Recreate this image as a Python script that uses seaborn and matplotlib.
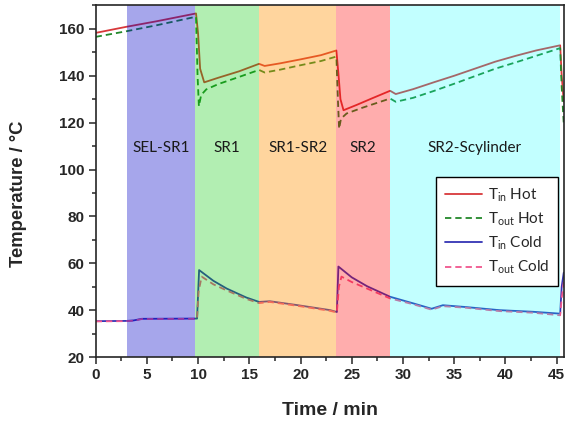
import matplotlib
matplotlib.use('Agg')
import matplotlib.pyplot as plt
from matplotlib.ticker import MultipleLocator
import numpy as np
import pandas as pd
import seaborn as sns

# heat-exchange run: inlet / outlet temperatures of the hot and cold streams
t_hot_in = [0, 3.0, 6.0, 9.8, 10.0, 10.2, 10.6, 12.0, 14.0, 15.95, 16.5, 18.0, 20.0, 22.0,
            23.5, 23.7, 23.9, 24.2, 25.5, 27.0, 28.75, 29.3, 31.0, 33.0, 35.0, 37.0, 39.0,
            41.0, 43.0, 45.35, 45.5, 45.7]
hot_in = [158.3, 160.9, 163.3, 166.6, 158, 143, 137.2, 139.2, 141.9, 145.1, 144.2, 145.3,
          147.0, 148.8, 150.8, 141, 130, 125.3, 127.6, 130.4, 133.6, 132.2, 134.3, 137.2,
          140.0, 143.0, 146.0, 148.5, 150.8, 153.0, 140, 129]

t_hot_out = [0, 3.0, 6.0, 9.8, 9.95, 10.08, 10.3, 10.8, 12.0, 14.0, 15.95, 16.5, 18.0, 20.0,
             22.0, 23.5, 23.65, 23.77, 23.95, 24.5, 26.0, 28.75, 29.3, 31.0, 33.0, 35.0,
             37.0, 39.0, 41.0, 43.0, 45.35, 45.5, 45.7]
hot_out = [156.6, 159.0, 161.6, 165.2, 140, 127, 131.8, 134.2, 136.5, 139.5, 142.5, 141.4,
           142.6, 144.5, 146.3, 148.2, 130, 117.4, 121.7, 123.9, 126.3, 130.3, 128.9, 130.6,
           133.5, 136.6, 139.8, 143.0, 145.7, 148.5, 151.8, 135, 119.6]

t_cold_in = [0, 3.0, 3.7, 4.5, 9.9, 10.1, 11.5, 12.8, 14.7, 15.96, 17.0, 19.6, 22.9, 23.55,
             23.7, 25.0, 26.5, 28.75, 31.0, 32.8, 33.9, 36.2, 39.4, 42.7, 45.35, 45.5, 45.7]
cold_in = [35.3, 35.4, 35.6, 36.3, 36.4, 57.1, 52.5, 49.2, 45.4, 43.5, 43.8, 42.2, 40.0,
           39.2, 58.6, 54.0, 50.2, 45.7, 42.9, 40.6, 42.1, 41.3, 40.0, 39.3, 38.5, 50, 56]

t_cold_out = [0, 3.0, 3.7, 4.5, 9.9, 10.05, 10.35, 11.5, 12.8, 14.7, 15.96, 17.0, 19.6, 22.9,
              23.55, 23.75, 24.0, 25.0, 26.5, 28.75, 31.0, 32.8, 33.9, 36.2, 39.4, 42.7,
              45.35, 45.5, 45.7]
cold_out = [35.2, 35.3, 35.5, 36.2, 36.3, 48, 54.3, 51.0, 48.4, 44.8, 43.0, 43.5, 41.9, 39.7,
            39.0, 50, 54.3, 52.0, 49.2, 45.0, 42.5, 40.2, 41.7, 41.0, 39.6, 38.9, 37.8, 45, 52]

series_names = [r'T$_\mathregular{in}$ Hot', r'T$_\mathregular{out}$ Hot',
                r'T$_\mathregular{in}$ Cold', r'T$_\mathregular{out}$ Cold']

# process stages
stage_names = ['SEL-SR1', 'SR1', 'SR1-SR2', 'SR2', 'SR2-Scylinder']
stage_edges = [3.05, 9.67, 15.96, 23.48, 28.75, 45.3]

df = pd.concat([
    pd.DataFrame({'t': t_hot_in, 'T': hot_in, 'series': series_names[0]}),
    pd.DataFrame({'t': t_hot_out, 'T': hot_out, 'series': series_names[1]}),
    pd.DataFrame({'t': t_cold_in, 'T': cold_in, 'series': series_names[2]}),
    pd.DataFrame({'t': t_cold_out, 'T': cold_out, 'series': series_names[3]}),
])

sns.set_style('ticks')
plt.rcParams['font.family'] = ['Liberation Sans', 'DejaVu Sans']
plt.rcParams['mathtext.default'] = 'regular'

line_colors = dict(zip(series_names, ['#d8383a', '#23882a', '#3434b4', '#f0568e']))
line_dashes = dict(zip(series_names, ['', (3.5, 2.2), '', (3.5, 2.2)]))
span_colors = [('#0000c8', 0.35), ('#00c800', 0.30), ('#ff9100', 0.38),
               ('#ff0000', 0.32), ('#00ffff', 0.24)]

fig = plt.figure(figsize=(5.66, 4.21), dpi=100)
ax = fig.add_axes([0.169, 0.152, 0.827, 0.835])

sns.lineplot(data=df, x='t', y='T', hue='series', style='series', palette=line_colors,
             dashes=line_dashes, sort=False, estimator=None, linewidth=1.3, ax=ax)

for (c, a), x0, x1, name in zip(span_colors, stage_edges[:-1], stage_edges[1:], stage_names):
    ax.axvspan(x0, x1, color=c, alpha=a, lw=0, zorder=2.2)
    ax.text((x0 + x1) / 2, 109, name, ha='center', va='center', fontsize=11,
            color='#1a1a1a', family=['Lato', 'DejaVu Sans'], zorder=4)

ax.set_xlim(0, 45.7)
ax.set_ylim(20, 170)
ax.xaxis.set_major_locator(MultipleLocator(5))
ax.xaxis.set_minor_locator(MultipleLocator(2.5))
ax.yaxis.set_major_locator(MultipleLocator(20))
ax.yaxis.set_minor_locator(MultipleLocator(10))
ax.tick_params(which='major', direction='out', length=5, width=1.1, labelsize=11, pad=3)
ax.tick_params(which='minor', direction='out', length=3, width=1.1)
for lab in ax.get_xticklabels() + ax.get_yticklabels():
    lab.set_fontweight('bold')
for sp in ax.spines.values():
    sp.set_linewidth(1.2)
    sp.set_zorder(5)

ax.set_xlabel('Time / min', fontsize=14, fontweight='bold', labelpad=14)
ax.set_ylabel('Temperature / °C', fontsize=13.3, fontweight='bold')
ax.yaxis.set_label_coords(-0.147, 0.464)

handles, labels = ax.get_legend_handles_labels()
leg = ax.legend(handles, labels, loc='upper right', bbox_to_anchor=(0.988, 0.512),
                frameon=True, fancybox=False, edgecolor='black', framealpha=1,
                handlelength=2.4, handletextpad=0.4, labelspacing=0.45, borderpad=0.6,
                borderaxespad=0, prop={'family': ['Lato', 'DejaVu Sans'], 'size': 11})
leg.get_frame().set_linewidth(1.0)
leg.set_zorder(6)

fig.savefig('out.png', dpi=100)
